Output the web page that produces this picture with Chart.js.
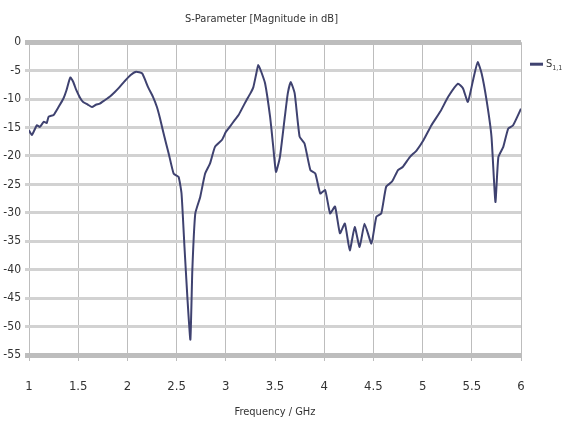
<!DOCTYPE html>
<html>
<head>
<meta charset="utf-8">
<script src="https://cdn.jsdelivr.net/npm/chart.js@4/dist/chart.umd.min.js"></script>
<style>
  body { margin: 0; background: #fff; }
</style>
</head>
<body>
<canvas id="sparam" width="564" height="432"></canvas>
<script>
// frequency points (GHz) and |S1,1| in dB
const freq = [1.00, 1.03, 1.08, 1.11, 1.15, 1.18, 1.20, 1.25, 1.30, 1.35, 1.38, 1.42, 1.45, 1.48, 1.52,
  1.55, 1.60, 1.64, 1.68, 1.72, 1.77, 1.82, 1.87, 1.92, 1.97, 2.03, 2.09, 2.15, 2.21, 2.26,
  2.30, 2.33, 2.36, 2.39, 2.42, 2.47, 2.52, 2.55, 2.58, 2.61, 2.64, 2.66, 2.69, 2.74, 2.79,
  2.84, 2.89, 2.96, 3.00, 3.04, 3.09, 3.13, 3.17, 3.21, 3.25, 3.28, 3.31, 3.33, 3.36, 3.40,
  3.45, 3.48, 3.51, 3.55, 3.60, 3.63, 3.66, 3.70, 3.75, 3.80, 3.86, 3.91, 3.96, 4.01, 4.06,
  4.11, 4.16, 4.21, 4.26, 4.31, 4.36, 4.41, 4.48, 4.53, 4.58, 4.63, 4.69, 4.75, 4.80, 4.87,
  4.94, 5.01, 5.09, 5.18, 5.26, 5.36, 5.41, 5.46, 5.52, 5.56, 5.60, 5.65, 5.70, 5.74, 5.77,
  5.82, 5.87, 5.92, 6.00];
const s11 = [-15.5, -16.3, -14.6, -14.9, -14.0, -14.2, -13.1, -12.8, -11.4, -9.9, -8.5, -6.2, -7.0, -8.4, -9.8,
  -10.5, -11.0, -11.4, -11.0, -10.8, -10.2, -9.6, -8.8, -7.9, -6.9, -5.8, -5.2, -5.5, -7.9, -9.6,
  -11.4, -13.3, -15.5, -17.6, -19.6, -23.1, -23.7, -26.6, -36.0, -45.0, -52.3, -40.0, -30.1, -27.2, -23.1,
  -21.3, -18.4, -17.2, -15.8, -14.9, -13.7, -12.8, -11.5, -10.2, -9.0, -7.9, -5.5, -4.0, -5.2, -7.3,
  -13.1, -18.0, -22.8, -20.2, -13.1, -9.0, -7.0, -9.0, -16.6, -17.8, -22.5, -23.1, -26.6, -26.0, -30.1,
  -28.9, -33.6, -31.9, -36.6, -32.5, -36.0, -31.9, -35.4, -30.7, -30.1, -25.4, -24.5, -22.5, -21.9, -20.2,
  -19.0, -17.2, -14.6, -12.2, -9.6, -7.3, -8.1, -10.5, -6.1, -3.5, -5.5, -10.2, -16.6, -28.1, -20.2,
  -18.4, -15.2, -14.6, -11.7];

const chartTitle = 'S-Parameter [Magnitude in dB]';
const xTitle = 'Frequency / GHz';
const seriesName = 'S';
const seriesIndex = '1,1';

const narrow = "'Liberation Sans Narrow', 'DejaVu Sans Condensed', sans-serif";
const lineColor = '#3f4270';

const points = freq.map((f, i) => ({ x: f, y: s11[i] }));

// small legend to the right of the plot, near the top
const sideLegend = {
  id: 'sideLegend',
  afterDraw(chart) {
    const ctx = chart.ctx;
    const area = chart.chartArea;
    const x = area.right + 9;
    const y = area.top + 22;
    ctx.save();
    ctx.fillStyle = lineColor;
    ctx.fillRect(x, y - 1.5, 13, 3);
    ctx.fillStyle = '#333';
    ctx.textBaseline = 'middle';
    ctx.font = '11px ' + narrow;
    ctx.fillText(seriesName, x + 16, y);
    const w = ctx.measureText(seriesName).width;
    ctx.font = '7px ' + narrow;
    ctx.fillText(seriesIndex, x + 16 + w, y + 4);
    ctx.restore();
  }
};

new Chart(document.getElementById('sparam'), {
  type: 'line',
  data: {
    datasets: [{
      label: seriesName + seriesIndex,
      data: points,
      borderColor: lineColor,
      backgroundColor: lineColor,
      borderWidth: 2,
      pointRadius: 0,
      tension: 0.15,
      fill: false
    }]
  },
  options: {
    responsive: false,
    animation: false,
    layout: { padding: { left: 2, right: 43, top: 9, bottom: 9 } },
    plugins: {
      title: {
        display: true,
        text: chartTitle,
        color: '#333',
        font: { family: narrow, size: 11, weight: 'normal' },
        padding: { top: 4, bottom: 16 }
      },
      legend: { display: false },
      tooltip: { enabled: false }
    },
    scales: {
      x: {
        type: 'linear',
        min: 1,
        max: 6,
        afterFit: s => { s.height = 68; },
        ticks: {
          stepSize: 0.5,
          color: '#333',
          padding: 18,
          font: { family: narrow, size: 13 },
          callback: v => String(v)
        },
        grid: { color: '#bdbdbd', lineWidth: 1, tickLength: 6 },
        border: { display: false },
        title: {
          display: true,
          text: xTitle,
          color: '#333',
          font: { family: narrow, size: 11 },
          padding: { top: 2, bottom: 4 }
        }
      },
      y: {
        min: -55,
        max: 0,
        afterFit: s => { s.width = 27; },
        ticks: {
          stepSize: 5,
          color: '#333',
          padding: 4,
          font: { family: narrow, size: 12 }
        },
        grid: {
          color: ctx => (ctx.tick && (ctx.tick.value === 0 || ctx.tick.value === -55)) ? '#bdbdbd' : '#d2d2d2',
          lineWidth: ctx => (ctx.tick && (ctx.tick.value === 0 || ctx.tick.value === -55)) ? 5 : 3,
          tickLength: 4
        },
        border: { display: false }
      }
    }
  },
  plugins: [sideLegend]
});
</script>
</body>
</html>
